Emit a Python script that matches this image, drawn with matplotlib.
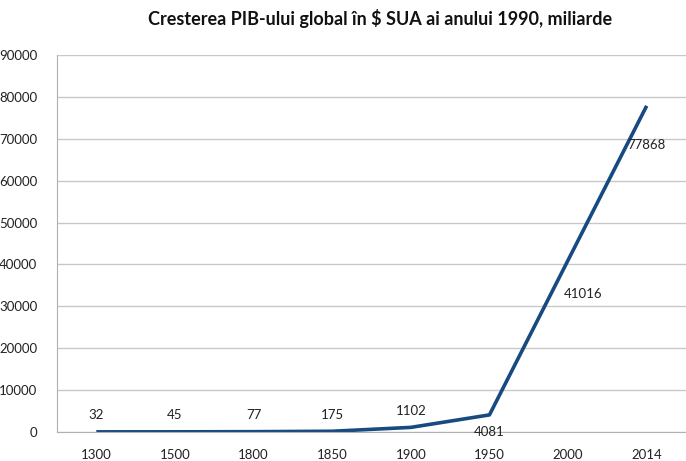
import matplotlib
matplotlib.use("Agg")
import matplotlib.pyplot as plt

years = ["1300", "1500", "1800", "1850", "1900", "1950", "2000", "2014"]
gdp = [32, 45, 77, 175, 1102, 4081, 41016, 77868]
label_offsets = [(0, 12), (0, 12), (0, 12), (0, 12), (0, 12), (0, -12), (11, -24), (0, -28)]
yticks = list(range(0, 90001, 10000))

plt.rcParams['font.family'] = ['Lato', 'DejaVu Sans']

fig = plt.figure(figsize=(6.86, 4.61), dpi=100)
ax = fig.add_axes([57/686, 1 - 432/461, 1 - 57/686, (432 - 55)/461])

x = list(range(len(years)))
ax.plot(x, gdp, color='#174a80', lw=2.6, solid_capstyle='butt')
for xi, v, off in zip(x, gdp, label_offsets):
    ax.annotate(str(v), (xi, v), xytext=off, textcoords='offset points',
                ha='center', va='center', fontsize=9.5, color='#222222')

ax.set_xlim(-0.5, len(years) - 0.5)
ax.set_ylim(0, 90000)
ax.set_yticks(yticks)
ax.set_yticklabels([str(t) for t in yticks])
ax.set_xticks(x)
ax.set_xticklabels(years)
ax.grid(axis='y', color='#c8c8c8', lw=1)
ax.set_axisbelow(True)
ax.tick_params(axis='both', length=0, labelsize=9.5, colors='#222222')
ax.tick_params(axis='x', pad=12)
ax.tick_params(axis='y', pad=14)
for s in ['top', 'right']:
    ax.spines[s].set_visible(False)
for s in ['left', 'bottom']:
    ax.spines[s].set_color('#b0b0b0')

fig.text(380/686, 1 - 18/461, "Cresterea PIB-ului global în $ SUA ai anului 1990, miliarde",
         ha='center', va='center', fontsize=13, fontweight='bold', color='#111111')

fig.savefig("out.png", dpi=100)
